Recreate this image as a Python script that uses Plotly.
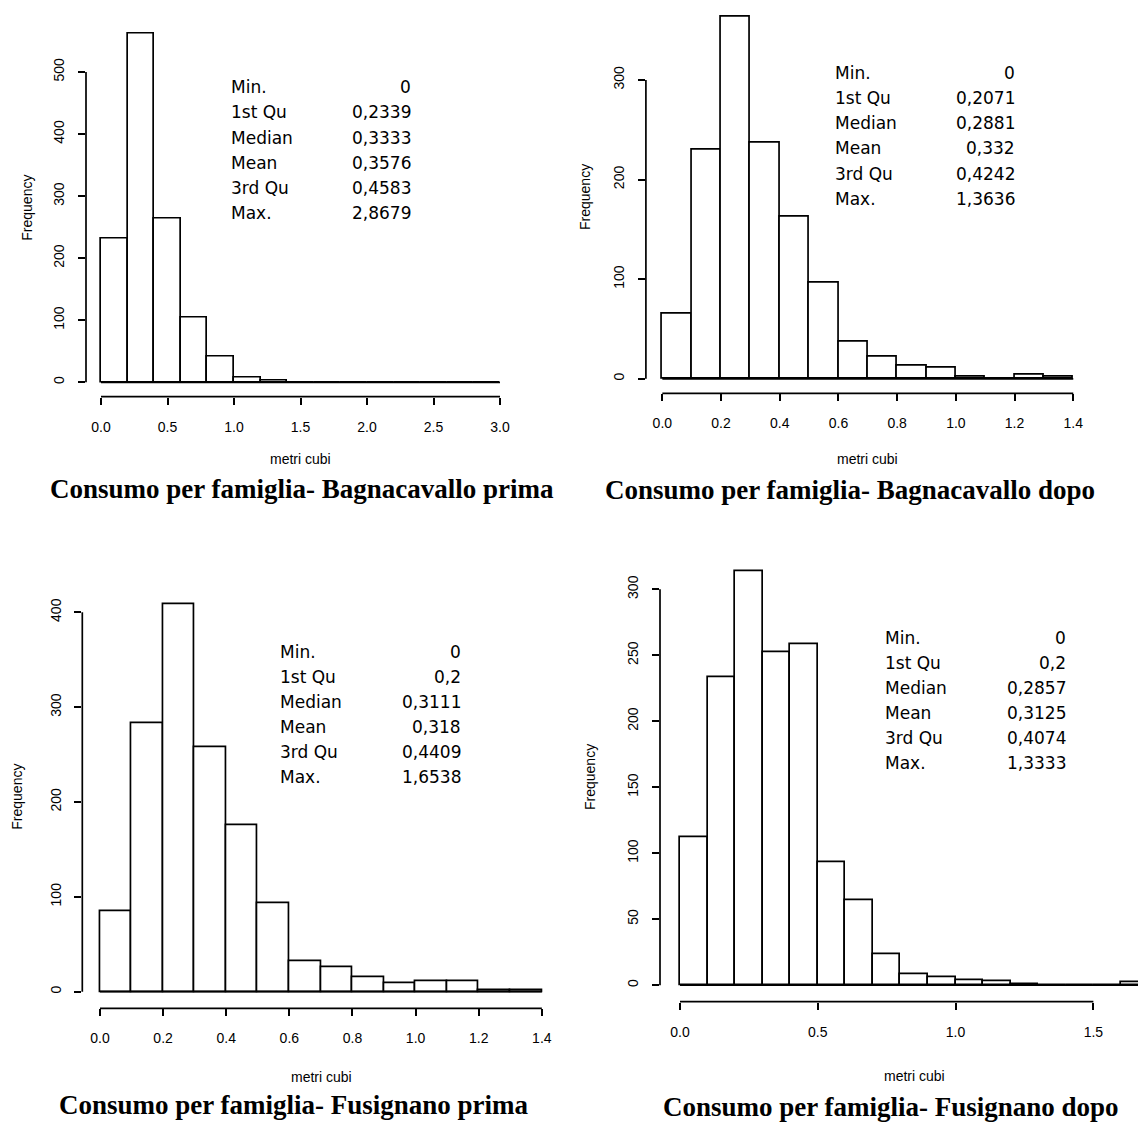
import plotly.graph_objects as go

# ---- data -------------------------------------------------------------
stat_names = ["Min.", "1st Qu", "Median", "Mean", "3rd Qu", "Max."]

titles = [
    "Consumo per famiglia- Bagnacavallo prima",
    "Consumo per famiglia- Bagnacavallo dopo",
    "Consumo per famiglia- Fusignano prima",
    "Consumo per famiglia- Fusignano dopo",
]

# histogram counts (bins start at 0)
bagnacavallo_prima_width = 0.2
bagnacavallo_prima_counts = [232, 562, 264, 105, 41, 8, 3, 0, 0, 0, 0, 0, 0, 0, 0]
bagnacavallo_prima_stats = ["0", "0,2339", "0,3333", "0,3576", "0,4583", "2,8679"]

bagnacavallo_dopo_width = 0.1
bagnacavallo_dopo_counts = [65, 230, 364, 237, 163, 96, 37, 22, 13, 11, 2, 0, 4, 2]
bagnacavallo_dopo_stats = ["0", "0,2071", "0,2881", "0,332", "0,4242", "1,3636"]

fusignano_prima_width = 0.1
fusignano_prima_counts = [85, 283, 409, 258, 176, 93, 32, 26, 15, 9, 11, 11, 2, 2]
fusignano_prima_stats = ["0", "0,2", "0,3111", "0,318", "0,4409", "1,6538"]

fusignano_dopo_width = 0.1
fusignano_dopo_counts = [112, 233, 314, 252, 258, 93, 64, 23, 8, 6, 4, 3, 1, 0, 0, 0, 2]
fusignano_dopo_stats = ["0", "0,2", "0,2857", "0,3125", "0,4074", "1,3333"]

# axis ticks
bp_xticks = [0.0, 0.5, 1.0, 1.5, 2.0, 2.5, 3.0]
bp_yticks = [0, 100, 200, 300, 400, 500]
bd_xticks = [0.0, 0.2, 0.4, 0.6, 0.8, 1.0, 1.2, 1.4]
bd_yticks = [0, 100, 200, 300]
fp_xticks = [0.0, 0.2, 0.4, 0.6, 0.8, 1.0, 1.2, 1.4]
fp_yticks = [0, 100, 200, 300, 400]
fd_xticks = [0.0, 0.5, 1.0, 1.5]
fd_yticks = [0, 50, 100, 150, 200, 250, 300]

# ---- page geometry ----------------------------------------------------
W, H = 1138, 1122
SANS = "Liberation Sans"
STAT_FONT = "DejaVu Sans"
SERIF = "Liberation Serif"

panels = [
    dict(width=bagnacavallo_prima_width, counts=bagnacavallo_prima_counts,
         stats=bagnacavallo_prima_stats, xticks=bp_xticks, yticks=bp_yticks,
         box=(86, 19.6, 515, 396.7), xr=[-0.1128, 3.1128], yr=[-23.2, 584.5],
         stat_x=(228.7, 413.3), stat_y0=87.3, stat_dy=25.1,
         freq=(26.7, 208), xlab=(300.5, 459), title=(302, 489), title_text=titles[0]),
    dict(width=bagnacavallo_dopo_width, counts=bagnacavallo_dopo_counts,
         stats=bagnacavallo_dopo_stats, xticks=bd_xticks, yticks=bd_yticks,
         box=(645.9, 1.7, 1089.7, 393.3), xr=[-0.056, 1.456], yr=[-14.56, 378.56],
         stat_x=(833.3, 1017.3), stat_y0=72.7, stat_dy=25.2,
         freq=(585, 197), xlab=(867, 459), title=(850, 490), title_text=titles[1]),
    dict(width=fusignano_prima_width, counts=fusignano_prima_counts,
         stats=fusignano_prima_stats, xticks=fp_xticks, yticks=fp_yticks,
         box=(82.3, 587.2, 559.5, 1008.3), xr=[-0.056, 1.456], yr=[-17.5, 426.5],
         stat_x=(277.7, 462.7), stat_y0=651.7, stat_dy=25.1,
         freq=(16.7, 797), xlab=(321, 1077), title=(294, 1105), title_text=titles[2]),
    dict(width=fusignano_dopo_width, counts=fusignano_dopo_counts,
         stats=fusignano_dopo_stats, xticks=fd_xticks, yticks=fd_yticks,
         box=(660, 554.3, 1138, 1001.7), xr=[-0.0726, 1.662], yr=[-12.56, 326.56],
         stat_x=(882.7, 1068.3), stat_y0=637.7, stat_dy=25.1,
         freq=(590, 777), xlab=(914, 1076), title=(891, 1107), title_text=titles[3]),
]


def px(x):
    return x / W


def py(y):
    return 1 - y / H


fig = go.Figure()
shapes = []
annotations = []
LINE = 1.7

for i, p in enumerate(panels, start=1):
    xa = "x" if i == 1 else f"x{i}"
    ya = "y" if i == 1 else f"y{i}"
    left, top, right, bottom = p["box"]

    n = len(p["counts"])
    w = p["width"]
    centers = [w * (k + 0.5) for k in range(n)]
    edges_end = w * n

    fig.add_trace(go.Bar(
        x=centers, y=p["counts"], width=[w] * n,
        marker=dict(color="white", line=dict(color="black", width=LINE)),
        xaxis=xa, yaxis=ya, showlegend=False, hoverinfo="x+y",
    ))

    common = dict(
        showgrid=False, zeroline=False, showline=False,
        ticks="outside", ticklen=7, tickwidth=LINE, tickcolor="black",
        tickfont=dict(family=SANS, size=14, color="black"),
        fixedrange=True,
    )
    fig.update_layout(**{
        ("xaxis" if i == 1 else f"xaxis{i}"): dict(
            domain=[px(left), px(right)], range=p["xr"], anchor=ya,
            tickvals=p["xticks"], ticktext=[f"{v:.1f}" for v in p["xticks"]],
            ticklabelstandoff=10, **common),
        ("yaxis" if i == 1 else f"yaxis{i}"): dict(
            domain=[py(bottom), py(top)], range=p["yr"], anchor=xa,
            tickvals=p["yticks"], ticktext=[str(v) for v in p["yticks"]],
            tickangle=-90, ticklabelstandoff=8, **common),
    })

    # R-style detached axis lines spanning first to last tick
    shapes.append(dict(type="line", xref=xa, yref=f"{ya} domain",
                       x0=p["xticks"][0], x1=p["xticks"][-1], y0=0, y1=0,
                       line=dict(color="black", width=LINE)))
    shapes.append(dict(type="line", xref=f"{xa} domain", yref=ya,
                       x0=0, x1=0, y0=p["yticks"][0], y1=p["yticks"][-1],
                       line=dict(color="black", width=LINE)))
    # baseline under empty bins
    shapes.append(dict(type="line", xref=xa, yref=ya,
                       x0=0, x1=edges_end, y0=0, y1=0,
                       line=dict(color="black", width=LINE)))

    # summary statistics block
    lx, rx = p["stat_x"]
    for k, (name, val) in enumerate(zip(stat_names, p["stats"])):
        yy = p["stat_y0"] + k * p["stat_dy"]
        annotations.append(dict(x=px(lx), y=py(yy), xref="paper", yref="paper",
                                text=name, showarrow=False, xanchor="left", yanchor="middle",
                                font=dict(family=STAT_FONT, size=17, color="black")))
        annotations.append(dict(x=px(rx), y=py(yy), xref="paper", yref="paper",
                                text=val, showarrow=False, xanchor="right", yanchor="middle",
                                font=dict(family=STAT_FONT, size=17, color="black")))

    # axis titles
    fx, fy = p["freq"]
    annotations.append(dict(x=px(fx), y=py(fy), xref="paper", yref="paper",
                            text="Frequency", textangle=-90, showarrow=False,
                            xanchor="center", yanchor="middle",
                            font=dict(family=SANS, size=14, color="black")))
    mx, my = p["xlab"]
    annotations.append(dict(x=px(mx), y=py(my), xref="paper", yref="paper",
                            text="metri cubi", showarrow=False,
                            xanchor="center", yanchor="middle",
                            font=dict(family=SANS, size=14, color="black")))
    tx, ty = p["title"]
    annotations.append(dict(x=px(tx), y=py(ty), xref="paper", yref="paper",
                            text=f"<b>{p['title_text']}</b>", showarrow=False,
                            xanchor="center", yanchor="middle",
                            font=dict(family=SERIF, size=27, color="black")))

fig.update_layout(
    width=W, height=H,
    margin=dict(l=0, r=0, t=0, b=0),
    paper_bgcolor="white", plot_bgcolor="white",
    bargap=0, barmode="overlay",
    shapes=shapes, annotations=annotations,
    showlegend=False,
)

fig.write_html("out.html", config={"displayModeBar": False})
